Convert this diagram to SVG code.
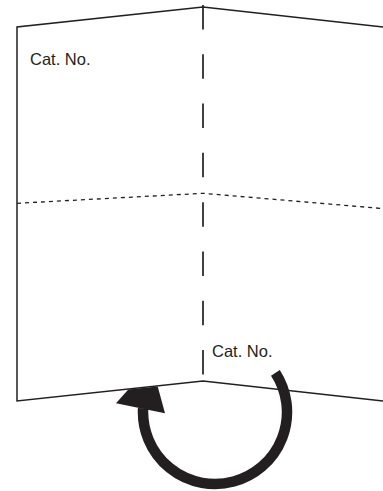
<svg xmlns="http://www.w3.org/2000/svg" width="383" height="491" viewBox="0 0 383 491">
  <style>
    .edge { fill: none; stroke: #231f20; stroke-width: 1.5; stroke-linejoin: miter; }
    .fold-v { fill: none; stroke: #231f20; stroke-width: 1.7; stroke-dasharray: 24.5 24.79; }
    .fold-h { fill: none; stroke: #231f20; stroke-width: 1.3; stroke-dasharray: 4 4; }
    .label { font-family: "Liberation Sans", Arial, sans-serif; font-size: 16.5px; fill: #231f20; }
    .arc { fill: none; stroke: #231f20; stroke-width: 10.5; stroke-linecap: butt; }
  </style>
  <rect width="383" height="491" fill="#ffffff"/>
  <g id="sheet">
    <polyline class="edge" points="383,27 203,7 17,27 17,401 203,381 383,401"/>
  </g>
  <g id="fold-lines">
    <line class="fold-v" x1="203" y1="5" x2="203" y2="374.5"/>
    <polyline class="fold-h" points="17,203.3 203,193.3 383,208.6"/>
  </g>
  <g id="labels">
    <text class="label" x="30" y="65">Cat. No.</text>
    <text class="label" x="212" y="357.3">Cat. No.</text>
  </g>
  <g id="connectors">
    <path class="arc" d="M 275.4 372.8 A 72 72 0 1 1 143.1 408.2"/>
    <polygon fill="#231f20" points="116,403.3 128.3,389.5 157.7,386.4 165,413.3"/>
  </g>
</svg>
